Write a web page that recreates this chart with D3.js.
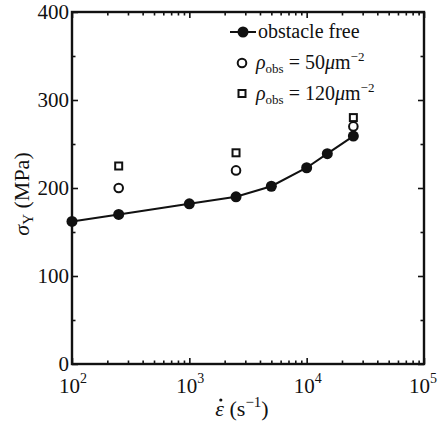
<!DOCTYPE html>
<html>
<head>
<meta charset="utf-8">
<script src="https://d3js.org/d3.v7.min.js"></script>
</head>
<body style="margin:0; font-family: 'Liberation Serif', serif">
<script>
  // obstacle free curve
  var rates = [100, 250, 1000, 2500, 5000, 10000, 15000, 25000];
  var stressFree = [162, 170, 182, 190, 202, 223, 239, 259];
  // with obstacles
  var obsRates = [250, 2500, 25000];
  var stress50 = [200, 220, 270];
  var stress120 = [225, 240, 280];
  var xTicks = [100, 1000, 10000, 100000];
  var xExponents = ["2", "3", "4", "5"];
  var yTicks = [0, 100, 200, 300, 400];

  var width = 438, height = 426;
  var margin = {left: 72, right: 14, top: 12, bottom: 62};
  var w = width - margin.left - margin.right;
  var h = height - margin.top - margin.bottom;

  var svg = d3.select('body').append('svg')
      .attr('width', width).attr('height', height)
      .attr('font-family', 'Times New Roman');
  svg.append('style').text('text, tspan { font-family: "Times New Roman", "Liberation Serif", serif; }');
  var g = svg.append('g')
      .attr('transform', 'translate(' + margin.left + ',' + margin.top + ')');

  function txt(parent) {
      return parent.append('text')
          .attr('font-family', 'Times New Roman')
          .attr('fill', '#111');
  }

  var x = d3.scaleLog().domain([100, 100000]).range([0, w]);
  var y = d3.scaleLinear().domain([0, 400]).range([h, 0]);

  var minorX = [];
  [100, 1000, 10000].forEach(function (d) {
      for (var k = 2; k <= 9; k++) minorX.push(d * k);
  });
  var minorY = [50, 150, 250, 350];

  function styleAxis(sel) {
      sel.select('.domain').remove();
      sel.selectAll('line').attr('stroke', '#111').attr('stroke-width', 1.6);
  }

  // major + minor ticks, inward, on all four sides
  g.append('g').attr('transform', 'translate(0,' + h + ')')
      .call(d3.axisBottom(x).tickValues(xTicks).tickSize(-6).tickFormat(''))
      .call(styleAxis);
  g.append('g')
      .call(d3.axisTop(x).tickValues(xTicks).tickSize(-6).tickFormat(''))
      .call(styleAxis);
  g.append('g').attr('transform', 'translate(0,' + h + ')')
      .call(d3.axisBottom(x).tickValues(minorX).tickSize(-3.5).tickFormat(''))
      .call(styleAxis);
  g.append('g')
      .call(d3.axisTop(x).tickValues(minorX).tickSize(-3.5).tickFormat(''))
      .call(styleAxis);

  g.append('g')
      .call(d3.axisLeft(y).tickValues(yTicks).tickSize(-6).tickFormat(''))
      .call(styleAxis);
  g.append('g').attr('transform', 'translate(' + w + ',0)')
      .call(d3.axisRight(y).tickValues(yTicks).tickSize(-6).tickFormat(''))
      .call(styleAxis);
  g.append('g')
      .call(d3.axisLeft(y).tickValues(minorY).tickSize(-3.5).tickFormat(''))
      .call(styleAxis);
  g.append('g').attr('transform', 'translate(' + w + ',0)')
      .call(d3.axisRight(y).tickValues(minorY).tickSize(-3.5).tickFormat(''))
      .call(styleAxis);

  // frame
  g.append('rect').attr('width', w).attr('height', h)
      .attr('fill', 'none').attr('stroke', '#111').attr('stroke-width', 2.4);

  // y tick labels
  yTicks.forEach(function (d) {
      txt(g).attr('x', -3).attr('y', y(d) + 7)
          .attr('text-anchor', 'end').attr('font-size', 21)
          .text(d);
  });

  // x tick labels 10^n (the last one kept inside the window)
  xTicks.forEach(function (d, i) {
      var last = i === xTicks.length - 1;
      var t = txt(g).attr('x', last ? w + margin.right - 1 : x(d) + 1).attr('y', h + 29)
          .attr('text-anchor', last ? 'end' : 'middle').attr('font-size', 21);
      t.append('tspan').text('10');
      t.append('tspan').attr('dy', -10).attr('font-size', 14).text(xExponents[i]);
  });

  // axis titles
  var yt = txt(svg)
      .attr('transform', 'translate(29,' + (margin.top + h / 2 + 6) + ') rotate(-90)')
      .attr('text-anchor', 'middle').attr('font-size', 22);
  yt.append('tspan').attr('font-style', 'italic').text('σ');
  yt.append('tspan').attr('dy', 4).attr('font-size', 15).text('Y');
  yt.append('tspan').attr('dy', -4).text(' (MPa)');

  var xt = txt(svg)
      .attr('x', margin.left + w / 2 - 6).attr('y', height - 10)
      .attr('text-anchor', 'middle').attr('font-size', 22);
  xt.append('tspan').attr('font-style', 'italic').text('ε');
  xt.append('tspan').text(' (s');
  xt.append('tspan').attr('dy', -9).attr('font-size', 15).text('−1');
  xt.append('tspan').attr('dy', 9).text(')');

  // obstacle free line
  var line = d3.line().x(d => x(d[0])).y(d => y(d[1]));
  var freePts = rates.map((r, i) => [r, stressFree[i]]);
  g.append('path').datum(freePts).attr('d', line)
      .attr('fill', 'none').attr('stroke', '#111').attr('stroke-width', 2);
  g.selectAll('.free').data(freePts).enter().append('circle')
      .attr('cx', d => x(d[0])).attr('cy', d => y(d[1])).attr('r', 5.5)
      .attr('fill', '#111');

  g.selectAll('.o50').data(obsRates).enter().append('circle')
      .attr('cx', d => x(d)).attr('cy', (d, i) => y(stress50[i])).attr('r', 4.3)
      .attr('fill', 'none').attr('stroke', '#111').attr('stroke-width', 2);
  g.selectAll('.o120').data(obsRates).enter().append('rect')
      .attr('x', d => x(d) - 3.5).attr('y', (d, i) => y(stress120[i]) - 3.5)
      .attr('width', 7).attr('height', 7)
      .attr('fill', 'none').attr('stroke', '#111').attr('stroke-width', 2);

  // legend
  var lg = g.append('g').attr('transform', 'translate(' + (230 - margin.left) + ',' + (20 - margin.top) + ')');
  lg.append('line').attr('x1', 0).attr('x2', 26).attr('y1', 12).attr('y2', 12)
      .attr('stroke', '#111').attr('stroke-width', 2);
  lg.append('circle').attr('cx', 13).attr('cy', 12).attr('r', 5.5).attr('fill', '#111');
  txt(lg).attr('x', 28).attr('y', 18).attr('font-size', 20).text('obstacle free');

  lg.append('circle').attr('cx', 12).attr('cy', 43).attr('r', 4.3)
      .attr('fill', 'none').attr('stroke', '#111').attr('stroke-width', 2);
  lg.append('rect').attr('x', 8.5).attr('y', 70).attr('width', 7).attr('height', 7)
      .attr('fill', 'none').attr('stroke', '#111').attr('stroke-width', 2);

  [['50', 49], ['120', 80]].forEach(function (p) {
      var t = txt(lg).attr('x', 26).attr('y', p[1]).attr('font-size', 20);
      t.append('tspan').attr('font-style', 'italic').text('ρ');
      t.append('tspan').attr('dy', 4).attr('font-size', 13).text('obs');
      t.append('tspan').attr('dy', -4).text(' = ' + p[0]);
      t.append('tspan').attr('font-style', 'italic').text('μ');
      t.append('tspan').text('m');
      t.append('tspan').attr('dy', -8).attr('font-size', 13).text('−2');
  });

  // dot over epsilon, placed after layout
  var bb = xt.select('tspan').node().getBBox();
  svg.append('circle').attr('cx', bb.x + bb.width / 2 + 1).attr('cy', bb.y + 4).attr('r', 1.6)
      .attr('fill', '#111');
</script>
</body>
</html>
